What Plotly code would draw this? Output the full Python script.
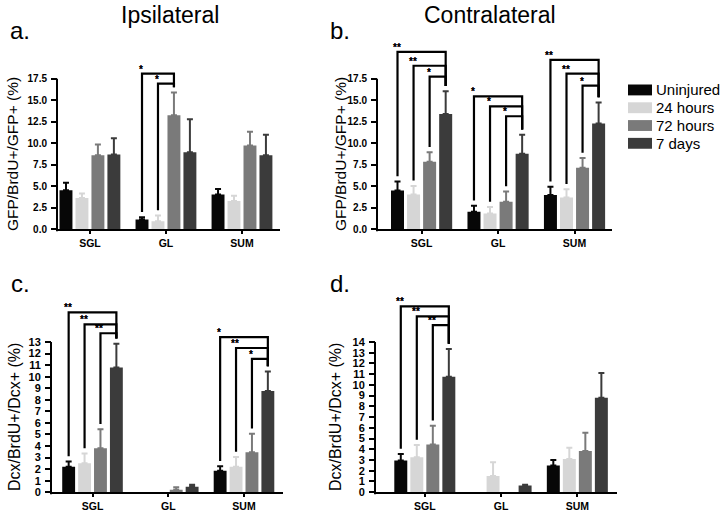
import plotly.graph_objects as go

# ---------------- data ----------------
categories = ["SGL", "GL", "SUM"]
groups = ["Uninjured", "24 hours", "72 hours", "7 days"]
colors = ["#070707", "#d6d6d6", "#7a7a7a", "#3b3b3b"]

# a. Ipsilateral  GFP/BrdU+/GFP+ (%)
a_uninjured = [4.55, 1.15, 4.05]
a_24h = [3.65, 0.95, 3.3]
a_72h = [8.6, 13.25, 9.75]
a_7d = [8.7, 8.95, 8.6]
a_uninjured_err = [0.85, 0.25, 0.65]
a_24h_err = [0.5, 0.65, 0.6]
a_72h_err = [1.25, 2.65, 1.6]
a_7d_err = [1.9, 3.85, 2.4]

# b. Contralateral  GFP/BrdU+/GFP+ (%)
b_uninjured = [4.5, 2.05, 4.0]
b_24h = [4.05, 1.85, 3.7]
b_72h = [7.85, 3.2, 7.15]
b_7d = [13.4, 8.8, 12.3]
b_uninjured_err = [1.05, 0.7, 0.95]
b_24h_err = [1.0, 0.75, 0.95]
b_72h_err = [1.1, 1.2, 1.15]
b_7d_err = [2.65, 2.2, 2.45]

# c. Ipsilateral  Dcx/BrdU+/Dcx+ (%)
c_uninjured = [2.2, None, 1.85]
c_24h = [2.5, None, 2.2]
c_72h = [3.8, 0.22, 3.45]
c_7d = [10.8, 0.47, 8.75]
c_uninjured_err = [0.45, None, 0.4]
c_24h_err = [0.85, None, 0.85]
c_72h_err = [1.65, 0.2, 1.6]
c_7d_err = [2.05, 0.18, 1.7]

# d. Contralateral  Dcx/BrdU+/Dcx+ (%)
d_uninjured = [2.95, None, 2.5]
d_24h = [3.25, 1.5, 3.1]
d_72h = [4.45, None, 3.85]
d_7d = [10.75, 0.62, 8.8]
d_uninjured_err = [0.6, None, 0.5]
d_24h_err = [1.15, 1.3, 1.05]
d_72h_err = [1.75, None, 1.7]
d_7d_err = [2.6, 0.08, 2.3]

# significance brackets: (category index, from group, to group, bracket level, label)
a_sig = [(1, 0, 2, 18.1, "*"), (1, 1, 2, 16.95, "*")]
b_sig = [(0, 0, 3, 20.63, "**"), (0, 1, 3, 19.02, "**"), (0, 2, 3, 17.76, "*"),
         (1, 0, 3, 15.45, "*"), (1, 1, 3, 14.3, "*"), (1, 2, 3, 13.15, "*"),
         (2, 0, 3, 19.71, "**"), (2, 1, 3, 18.1, "**"), (2, 2, 3, 16.7, "*")]
c_sig = [(0, 0, 3, 15.56, "**"), (0, 1, 3, 14.53, "**"), (0, 2, 3, 13.76, "**"),
         (2, 0, 3, 13.42, "*"), (2, 1, 3, 12.48, "**"), (2, 2, 3, 11.54, "*")]
d_sig = [(0, 0, 3, 17.31, "**"), (0, 1, 3, 16.39, "**"), (0, 2, 3, 15.56, "**")]

a_ticks = [0, 2.5, 5.0, 7.5, 10.0, 12.5, 15.0, 17.5]
c_ticks = list(range(0, 14))
d_ticks = list(range(0, 15))

# ---------------- layout helpers ----------------
W, H = 720, 516
FONT = "Liberation Sans, Arial, Helvetica, sans-serif"
BARGAP = 0.16
BARGROUPGAP = 0.19


def fx(p):
    return p / W


def fy(p):
    return 1 - p / H


panels = [
    dict(key="a", x="x", y="y", means=[a_uninjured, a_24h, a_72h, a_7d],
         errs=[a_uninjured_err, a_24h_err, a_72h_err, a_7d_err], sig=a_sig,
         ticks=a_ticks, fmt=".1f", tfs=10, xl=58, xr=280, zero=232, ppu=8.70,
         ymax=18.6, xrange=[-0.42, 2.5], ytitle="GFP/BrdU+/GFP+ (%)", tx=12, tfsz=15.5),
    dict(key="b", x="x2", y="y2", means=[b_uninjured, b_24h, b_72h, b_7d],
         errs=[b_uninjured_err, b_24h_err, b_72h_err, b_7d_err], sig=b_sig,
         ticks=a_ticks, fmt=".1f", tfs=10, xl=378, xr=612, zero=232, ppu=8.70,
         ymax=21.2, xrange=[-0.57, 2.49], ytitle="GFP/BrdU+/GFP+ (%)", tx=340, tfsz=15.5),
    dict(key="c", x="x3", y="y3", means=[c_uninjured, c_24h, c_72h, c_7d],
         errs=[c_uninjured_err, c_24h_err, c_72h_err, c_7d_err], sig=c_sig,
         ticks=c_ticks, fmt="d", tfs=11, xl=52, xr=283, zero=498, ppu=11.69,
         ymax=15.9, xrange=[-0.535, 2.515], ytitle="Dcx/BrdU+/Dcx+ (%)", tx=14, tfsz=16),
    dict(key="d", x="x4", y="y4", means=[d_uninjured, d_24h, d_72h, d_7d],
         errs=[d_uninjured_err, d_24h_err, d_72h_err, d_7d_err], sig=d_sig,
         ticks=d_ticks, fmt="d", tfs=11, xl=376, xr=617, zero=498, ppu=10.86,
         ymax=17.6, xrange=[-0.64, 2.52], ytitle="Dcx/BrdU+/Dcx+ (%)", tx=335, tfsz=16),
]

slot = (1 - BARGAP) / len(groups)
offsets = [-(1 - BARGAP) / 2 + slot * (i + 0.5) for i in range(len(groups))]

fig = go.Figure()
shapes = []
annotations = []
layout_axes = {}

for p in panels:
    gap = 0.035 * p["ticks"][-1]
    for gi, g in enumerate(groups):
        fig.add_trace(go.Bar(
            x=list(range(len(categories))), y=p["means"][gi],
            name=g, marker=dict(color=colors[gi], line=dict(width=0)),
            error_y=dict(type="data", array=p["errs"][gi], symmetric=False,
                         arrayminus=[0] * len(categories),
                         color=colors[gi], thickness=2, width=3),
            xaxis=p["x"], yaxis=p["y"], showlegend=False,
        ))
    dom_b = fy(p["zero"])
    dom_t = fy(p["zero"] - p["ymax"] * p["ppu"])
    xname = "xaxis" if p["x"] == "x" else "xaxis" + p["x"][1:]
    yname = "yaxis" if p["y"] == "y" else "yaxis" + p["y"][1:]
    layout_axes[xname] = dict(
        domain=[fx(p["xl"]), fx(p["xr"])], anchor=p["y"], range=p["xrange"],
        tickvals=list(range(len(categories))), ticktext=categories,
        showline=True, linewidth=2, linecolor="black", showgrid=False, zeroline=False,
        ticks="outside", ticklen=3, tickwidth=2, tickcolor="black",
        tickfont=dict(family=FONT, size=10.5, color="black", weight="bold"),
    )
    layout_axes[yname] = dict(
        domain=[dom_b, dom_t], anchor=p["x"], range=[0, p["ymax"]],
        tickvals=p["ticks"], tickformat=p["fmt"], showline=False,
        showgrid=False, zeroline=False, ticks="outside", ticklen=6, tickwidth=2,
        tickcolor="black", ticklabelstandoff=2,
        tickfont=dict(family=FONT, size=p["tfs"], color="black", weight="bold"),
    )
    # y-axis spine limited to the tick range
    top_frac = dom_b + (p["ticks"][-1] / p["ymax"]) * (dom_t - dom_b)
    shapes.append(dict(type="line", xref="paper", yref="paper",
                       x0=fx(p["xl"]) - 1 / W, x1=fx(p["xl"]) - 1 / W,
                       y0=dom_b - 2 / H, y1=top_frac,
                       line=dict(color="black", width=2)))
    # significance brackets
    for (ci, g0, g1, lvl, lab) in p["sig"]:
        xa = ci + offsets[g0]
        xb = ci + offsets[g1]
        ya = p["means"][g0][ci] + p["errs"][g0][ci] + gap
        yb = p["means"][g1][ci] + p["errs"][g1][ci] + gap
        shapes.append(dict(type="path", xref=p["x"], yref=p["y"],
                           path=f"M {xa} {ya} L {xa} {lvl} L {xb} {lvl} L {xb} {yb}",
                           line=dict(color="black", width=2.2)))
        annotations.append(dict(xref=p["x"], yref=p["y"], x=xa, y=lvl, text=lab,
                                showarrow=False, xanchor="center", yanchor="bottom",
                                xshift=-1, yshift=-3,
                                font=dict(family=FONT, size=10, color="black",
                                          weight="bold",
                                          shadow="0px 0px 0.6px rgba(0,0,0,0.8)")))
    annotations.append(dict(xref="paper", yref="paper", x=fx(p["tx"]),
                            y=(dom_b + top_frac) / 2, text=p["ytitle"], textangle=-90,
                            showarrow=False, xanchor="center", yanchor="middle",
                            font=dict(family=FONT, size=p["tfsz"], color="black")))

# titles and panel letters
for txt, x, y, sz, ya in [("Ipsilateral", 170, 0, 23, "top"), ("Contralateral", 490, 0, 23, "top"),
                          ("a.", 20, 31, 24, "middle"), ("b.", 340, 31, 24, "middle"),
                          ("c.", 20, 287, 24, "middle"), ("d.", 340, 287, 24, "middle")]:
    annotations.append(dict(xref="paper", yref="paper", x=fx(x), y=fy(y), text=txt,
                            showarrow=False, xanchor="center", yanchor=ya,
                            font=dict(family=FONT, size=sz, color="black")))

# legend
legend_rows = [91, 109, 127, 145]
for gi, g in enumerate(groups):
    r = legend_rows[gi]
    shapes.append(dict(type="rect", xref="paper", yref="paper",
                       x0=fx(628), x1=fx(652), y0=fy(r + 5.5), y1=fy(r - 5.5),
                       fillcolor=colors[gi], line=dict(width=0)))
    annotations.append(dict(xref="paper", yref="paper", x=fx(654), y=fy(r), text=g,
                            showarrow=False, xanchor="left", yanchor="middle",
                            font=dict(family=FONT, size=15, color="black")))

fig.update_layout(
    width=W, height=H, margin=dict(l=0, r=0, t=0, b=0),
    paper_bgcolor="white", plot_bgcolor="white",
    barmode="group", bargap=BARGAP, bargroupgap=BARGROUPGAP,
    shapes=shapes, annotations=annotations, showlegend=False,
    font=dict(family=FONT, color="black"),
    **layout_axes,
)

fig.write_html("out.html", config={"displayModeBar": False},
               post_script="document.body.style.margin='0px';document.body.style.padding='0px';")
